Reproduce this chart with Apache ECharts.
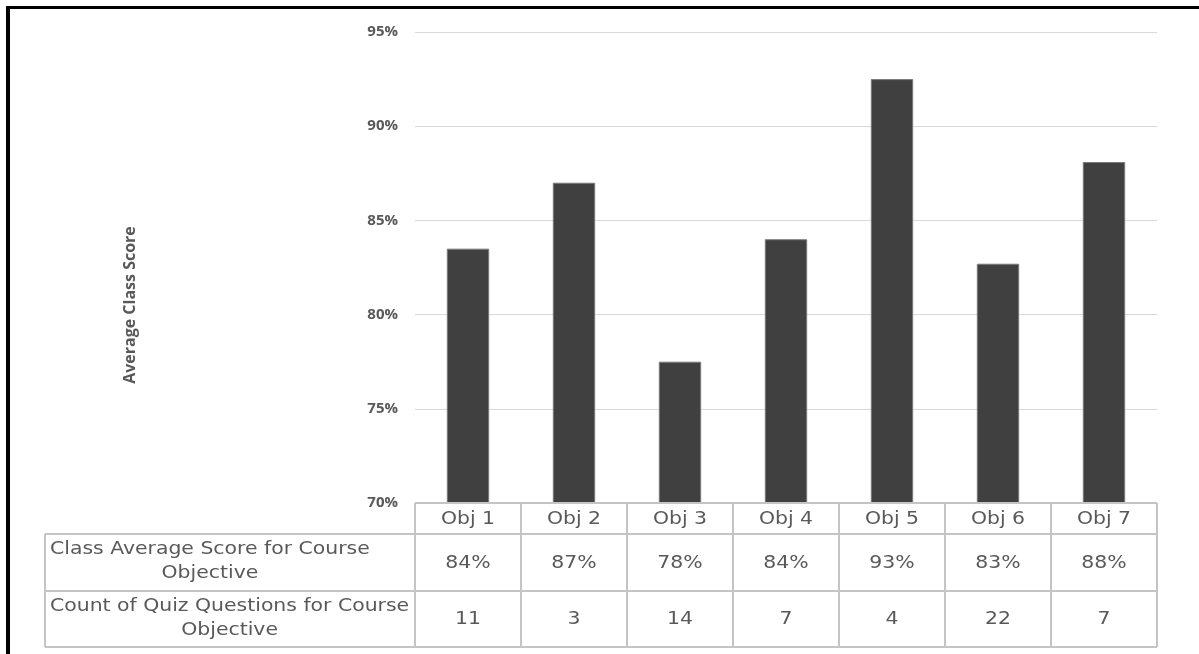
<!DOCTYPE html>
<html>
<head>
<meta charset="utf-8">
<script src="https://cdn.jsdelivr.net/npm/echarts@6/dist/echarts.min.js"></script>
<style>
html,body{margin:0;padding:0;background:#fff;}
#chart{width:1199px;height:654px;}
</style>
</head>
<body>
<div id="chart"></div>
<script>
// ---- data ----
const categories = ['Obj 1', 'Obj 2', 'Obj 3', 'Obj 4', 'Obj 5', 'Obj 6', 'Obj 7'];
const scores = [83.5, 87.0, 77.5, 84.0, 92.5, 82.7, 88.1];
const scoreLabels = ['84%', '87%', '78%', '84%', '93%', '83%', '88%'];
const counts = [11, 3, 14, 7, 4, 22, 7];
const rowLabels = [
  ['Class Average Score for Course', 'Objective'],
  ['Count of Quiz Questions for Course', 'Objective']
];
const yMin = 70, yMax = 95, yStep = 5;
const yTitle = 'Average Class Score';

const chart = echarts.init(document.getElementById('chart'), null, {renderer: 'canvas'});

const GRID = {left: 415, right: 42, top: 32, bottom: 151};
const tableLine = '#c4c4c4';
const textColor = '#595959';
const tableFont = '17px "DejaVu Sans"';
const SX = 1.2;

chart.setOption({
  animation: false,
  backgroundColor: '#ffffff',
  grid: GRID,
  xAxis: {
    type: 'category',
    data: categories,
    axisLine: {show: false},
    axisTick: {show: false},
    axisLabel: {show: false}
  },
  yAxis: {
    type: 'value',
    min: yMin, max: yMax, interval: yStep,
    axisLine: {show: false},
    axisTick: {show: false},
    axisLabel: {
      formatter: '{value}%', margin: 17, color: textColor,
      fontFamily: 'Open Sans', fontWeight: 'bold', fontSize: 15
    },
    splitLine: {lineStyle: {color: '#d9d9d9', width: 1}}
  },
  series: [{
    type: 'bar',
    data: scores,
    barWidth: '40%',
    itemStyle: {color: '#404040', borderColor: '#7a7a7a', borderWidth: 1}
  }]
});

function measure(t) {
  const ctx = document.createElement('canvas').getContext('2d');
  ctx.font = tableFont;
  return ctx.measureText(t).width * SX;
}

function buildTable() {
  const c0 = chart.convertToPixel({xAxisIndex: 0}, 0);
  const c1 = chart.convertToPixel({xAxisIndex: 0}, 1);
  const band = c1 - c0;
  const n = categories.length;
  const left = c0 - band / 2;
  const right = left + band * n;
  const top = chart.convertToPixel({yAxisIndex: 0}, yMin);
  const r1 = top + 31, r2 = r1 + 57, r3 = r2 + 56;
  const labelLeft = 45;
  const els = [];
  const line = (x1, y1, x2, y2) => els.push({
    type: 'line', shape: {x1, y1, x2, y2},
    style: {stroke: tableLine, lineWidth: 2}, z: 10
  });
  const txt = (x, y, t) => els.push({
    type: 'text', x, y, scaleX: SX, z: 11,
    style: {text: t, font: tableFont, fill: textColor, align: 'center', verticalAlign: 'middle'}
  });
  // horizontal lines
  line(left, top, right, top);
  line(labelLeft, r1, right, r1);
  line(labelLeft, r2, right, r2);
  line(labelLeft, r3, right, r3);
  // vertical lines
  line(labelLeft, r1, labelLeft, r3);
  for (let i = 0; i <= n; i++) {
    const x = left + band * i;
    line(x, top, x, r3);
  }
  // header + cells
  for (let i = 0; i < n; i++) {
    const cx = chart.convertToPixel({xAxisIndex: 0}, i);
    txt(cx, (top + r1) / 2 + 1, categories[i]);
    txt(cx, (r1 + r2) / 2 + 1, scoreLabels[i]);
    txt(cx, (r2 + r3) / 2 + 1, String(counts[i]));
  }
  // row labels: block left-aligned, lines centred within block
  const bx = labelLeft + 5;
  [r1, r2].forEach((ry, k) => {
    const w = measure(rowLabels[k][0]);
    const cx = bx + w / 2;
    txt(cx, ry + 16, rowLabels[k][0]);
    txt(cx, ry + 40, rowLabels[k][1]);
  });
  // y-axis title
  els.push({
    type: 'text', x: 130, y: 305, rotation: Math.PI / 2, z: 11,
    style: {text: yTitle, font: 'bold 16px "Open Sans"', fill: textColor, align: 'center', verticalAlign: 'middle'}
  });
  // outer black frame (left and top)
  els.push({type: 'rect', shape: {x: 6, y: 6, width: 4, height: 660}, style: {fill: '#000'}, z: 20});
  els.push({type: 'rect', shape: {x: 6, y: 6, width: 1200, height: 3}, style: {fill: '#000'}, z: 20});
  chart.setOption({graphic: {elements: els}});
}
buildTable();
</script>
</body>
</html>
